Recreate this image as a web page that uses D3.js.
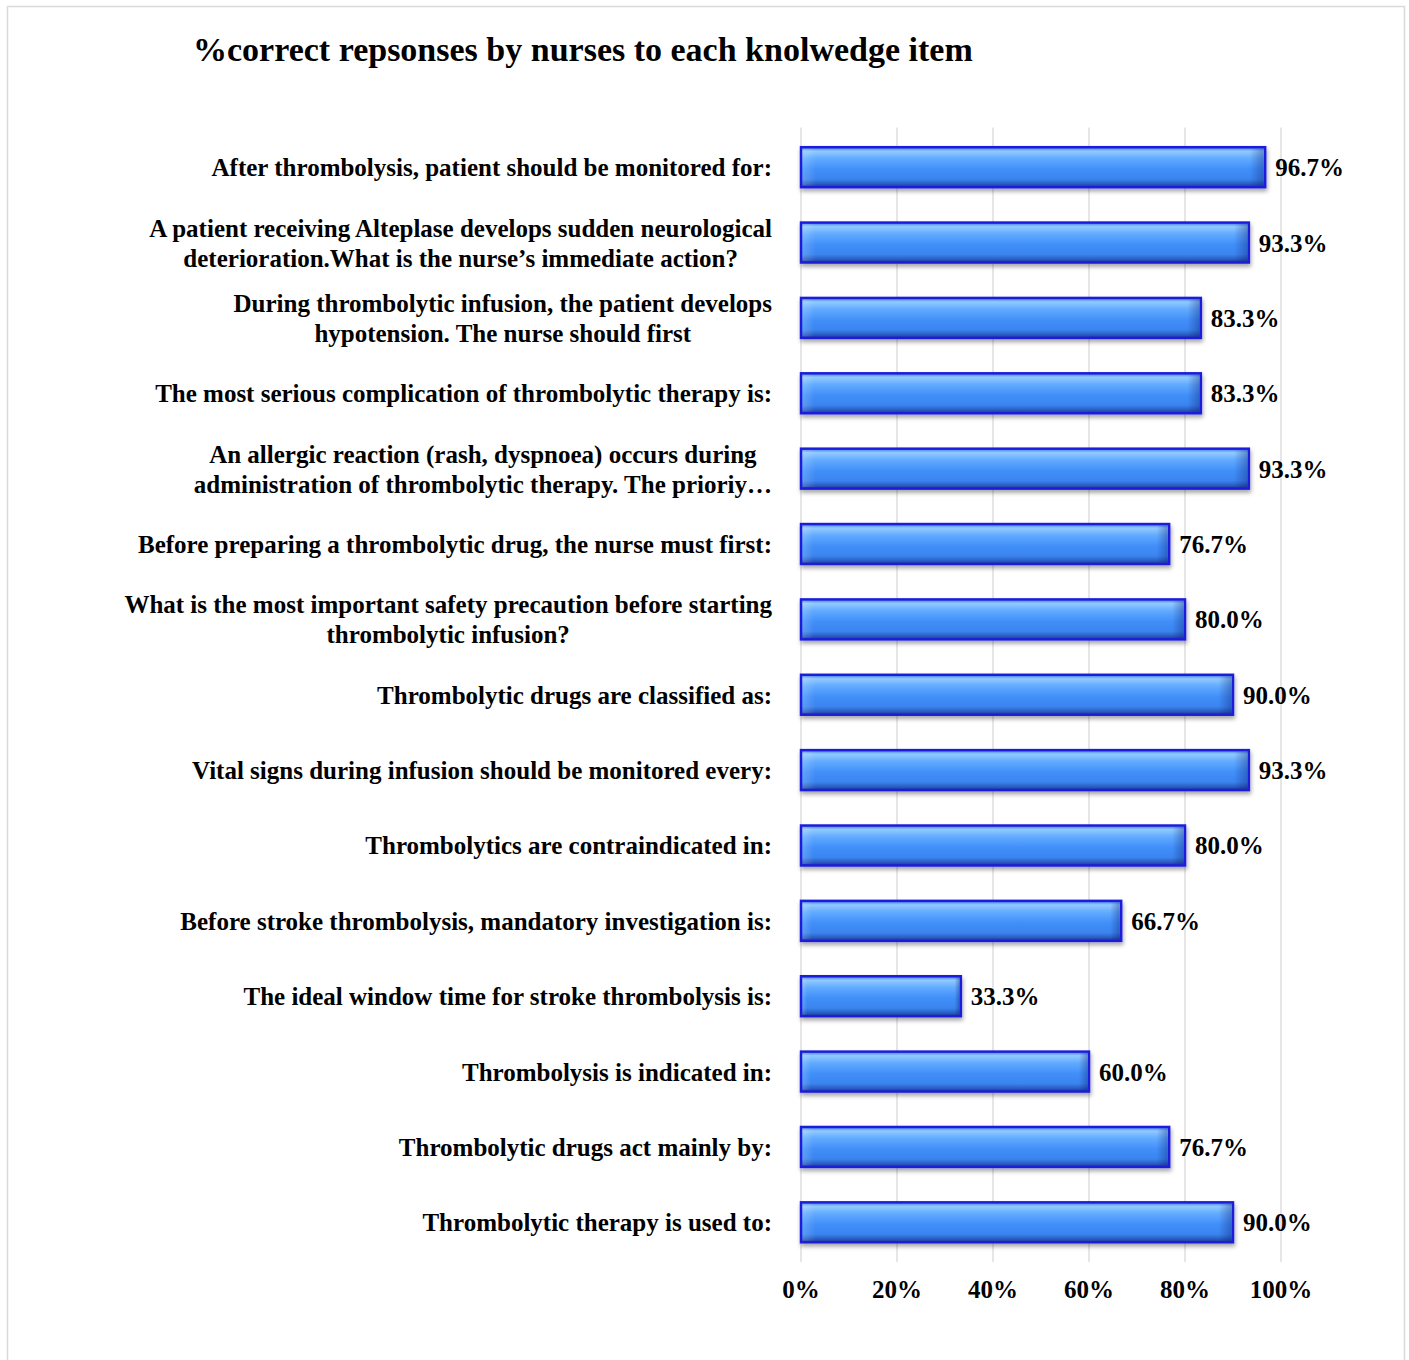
<!DOCTYPE html>
<html>
<head>
<meta charset="utf-8">
<script src="https://cdn.jsdelivr.net/npm/d3@7"></script>
<style>
  body { margin: 0; background: #fff; }
  text { font-family: "Liberation Serif", "Times New Roman", serif; font-weight: bold; fill: #000; }
</style>
</head>
<body>
<svg id="chart" width="1409" height="1360"></svg>
<script>
// data, top to bottom as in the picture
var categories = [
  ["After thrombolysis, patient should be monitored for:"],
  ["A patient receiving Alteplase develops sudden neurological", "deterioration.What is the nurse\u2019s immediate action?"],
  ["During thrombolytic infusion, the patient develops", "hypotension. The nurse should first"],
  ["The most serious complication of thrombolytic therapy is:"],
  ["An allergic reaction (rash, dyspnoea) occurs during", "administration of thrombolytic therapy. The prioriy\u2026"],
  ["Before preparing a thrombolytic drug, the nurse must first:"],
  ["What is the most important safety precaution before starting", "thrombolytic infusion?"],
  ["Thrombolytic drugs are classified as:"],
  ["Vital signs during infusion should be monitored every:"],
  ["Thrombolytics are contraindicated in:"],
  ["Before stroke thrombolysis, mandatory investigation is:"],
  ["The ideal window time for stroke thrombolysis is:"],
  ["Thrombolysis is indicated in:"],
  ["Thrombolytic drugs act mainly by:"],
  ["Thrombolytic therapy is used to:"]
];
var values = [96.7, 93.3, 83.3, 83.3, 93.3, 76.7, 80.0, 90.0, 93.3, 80.0, 66.7, 33.3, 60.0, 76.7, 90.0];
var xTicks = [0, 20, 40, 60, 80, 100];
var title = "%correct repsonses by nurses to each knolwedge item";

var svg = d3.select("#chart");

// outer chart border
svg.append("rect")
  .attr("x", 7.5).attr("y", 6.5)
  .attr("width", 1397).attr("height", 1370)
  .attr("fill", "#fff").attr("stroke", "#d9d9d9").attr("stroke-width", 1.5);

svg.append("text")
  .attr("x", 193).attr("y", 61)
  .style("font-size", "34px")
  .text(title);

var plotLeft = 801, plotRight = 1281, plotTop = 129.5, plotBottom = 1260;

var x = d3.scaleLinear().domain([0, 100]).range([plotLeft, plotRight]);
var y = d3.scaleBand().domain(d3.range(categories.length)).range([plotTop, plotBottom]).paddingInner(0.47).paddingOuter(0.235);

// defs: gradient + shadow
var defs = svg.append("defs");
var grad = defs.append("linearGradient").attr("id", "barGrad")
  .attr("x1", 0).attr("y1", 0).attr("x2", 0).attr("y2", 1);
[[0, "#3c78e8"], [0.1, "#92caff"], [0.28, "#62abff"], [0.55, "#418ff9"], [0.8, "#3a84ef"], [0.92, "#2a5cc0"], [1, "#1c3590"]]
  .forEach(function(s) { grad.append("stop").attr("offset", s[0]).attr("stop-color", s[1]); });

var side = defs.append("linearGradient").attr("id", "sideGrad")
  .attr("x1", 0).attr("y1", 0).attr("x2", 1).attr("y2", 0);
[[0, "#ffffff", 0.18], [0.03, "#ffffff", 0], [0.97, "#0a1a70", 0], [1, "#0a1a70", 0.35]]
  .forEach(function(s) { side.append("stop").attr("offset", s[0]).attr("stop-color", s[1]).attr("stop-opacity", s[2]); });

var shadow = defs.append("filter").attr("id", "shadow").attr("x", "-5%").attr("y", "-20%").attr("width", "110%").attr("height", "160%");
shadow.append("feDropShadow").attr("dx", 1).attr("dy", 3).attr("stdDeviation", 2)
  .attr("flood-color", "#000").attr("flood-opacity", 0.35);

// gridlines
svg.append("g").selectAll("line").data(xTicks).enter().append("line")
  .attr("x1", function(d) { return x(d); }).attr("x2", function(d) { return x(d); })
  .attr("y1", plotTop - 2).attr("y2", plotBottom + 2)
  .attr("stroke", "#d9d9d9").attr("stroke-width", 1.3);

// bars
var bars = svg.append("g");
bars.selectAll("rect.bar").data(values).enter().append("rect")
  .attr("class", "bar")
  .attr("x", x(0))
  .attr("y", function(d, i) { return y(i); })
  .attr("width", function(d) { return x(d) - x(0); })
  .attr("height", y.bandwidth())
  .attr("fill", "url(#barGrad)")
  .attr("stroke", "#1f1fdc").attr("stroke-width", 2.5)
  .attr("filter", "url(#shadow)");

bars.selectAll("rect.side").data(values).enter().append("rect")
  .attr("class", "side")
  .attr("x", x(0) + 1.5)
  .attr("y", function(d, i) { return y(i) + 1.5; })
  .attr("width", function(d) { return x(d) - x(0) - 3; })
  .attr("height", y.bandwidth() - 3)
  .attr("fill", "url(#sideGrad)");

// value labels
svg.append("g").selectAll("text").data(values).enter().append("text")
  .attr("x", function(d) { return x(d) + 10; })
  .attr("y", function(d, i) { return y(i) + y.bandwidth() / 2 + 9; })
  .style("font-size", "25px")
  .text(function(d) { return d.toFixed(1) + "%"; });

// category labels (lines centred inside a right-aligned block)
var labelRight = 772;
var lab = svg.append("g").selectAll("text").data(categories).enter().append("text")
  .style("font-size", "25px")
  .attr("text-anchor", "middle");
lab.each(function(lines, i) {
  var t = d3.select(this);
  var cy = y(i) + y.bandwidth() / 2;
  var widths = lines.map(function(l) {
    var s = t.append("tspan").text(l);
    var w = s.node().getComputedTextLength();
    s.remove();
    return w;
  });
  var cx = labelRight - d3.max(widths) / 2;
  var off = (lines.length - 1) * 15;
  lines.forEach(function(l, k) {
    t.append("tspan").attr("x", cx).attr("y", cy - off + k * 30 + 9).text(l);
  });
});

// x axis labels
svg.append("g").selectAll("text").data(xTicks).enter().append("text")
  .attr("x", function(d) { return x(d); })
  .attr("y", 1298)
  .attr("text-anchor", "middle")
  .style("font-size", "25px")
  .text(function(d) { return d + "%"; });
</script>
</body>
</html>
